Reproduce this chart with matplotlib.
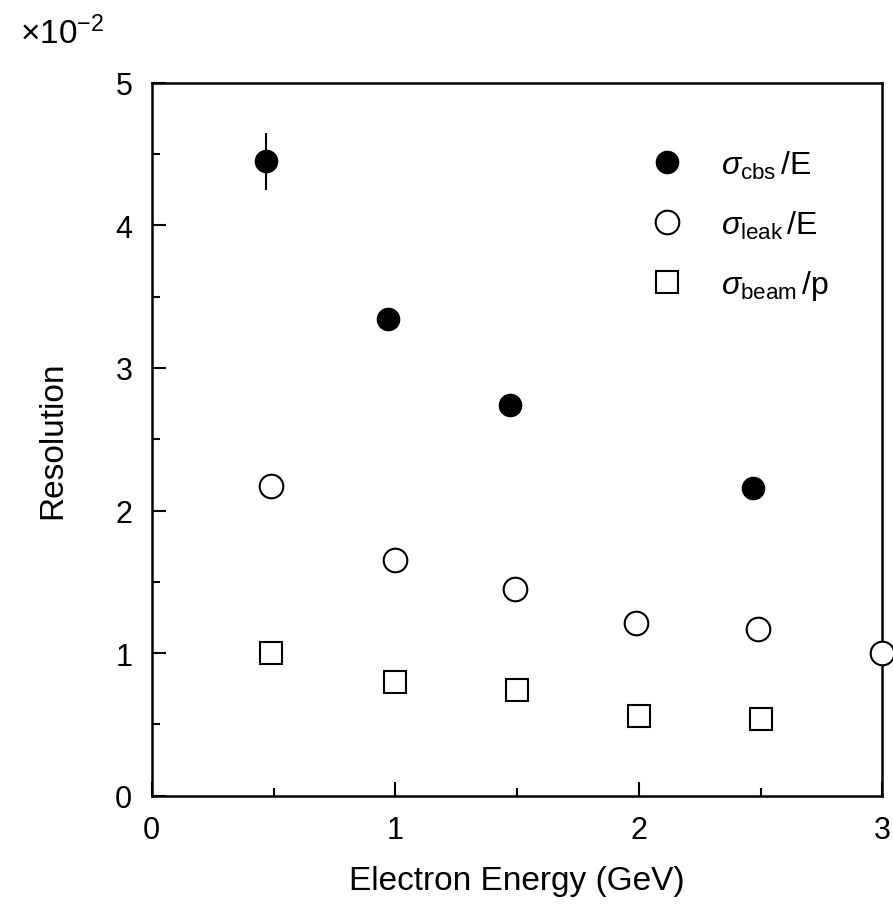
import numpy as np
import matplotlib.pyplot as plt

plt.rcParams['font.family'] = 'Liberation Sans'
plt.rcParams['mathtext.fontset'] = 'custom'
plt.rcParams['mathtext.rm'] = 'Liberation Sans'
plt.rcParams['mathtext.it'] = 'Liberation Sans:italic'

# data (resolution in units of 1e-2)
e_cbs = [0.47, 0.97, 1.47, 2.47]
r_cbs = [4.45, 3.34, 2.74, 2.16]
err_cbs = [0.20, 0.0, 0.0, 0.0]

e_leak = [0.49, 1.0, 1.49, 1.99, 2.49, 3.0]
r_leak = [2.17, 1.65, 1.45, 1.21, 1.17, 1.0]

e_beam = [0.49, 1.0, 1.5, 2.0, 2.5]
r_beam = [1.0, 0.80, 0.74, 0.56, 0.54]

fig = plt.figure(figsize=(8.93, 9.20), dpi=100)
ax = fig.add_axes([0.170, 0.134, 0.818, 0.775])

ax.errorbar(e_cbs, r_cbs, yerr=err_cbs, fmt='none', ecolor='black',
            elinewidth=1.5, capsize=0)
h1, = ax.plot(e_cbs, r_cbs, 'o', color='black', ms=16)
h2, = ax.plot(e_leak, r_leak, 'o', mfc='white', mec='black', mew=1.5, ms=17,
              clip_on=False, zorder=5)
h3, = ax.plot(e_beam, r_beam, 's', mfc='white', mec='black', mew=1.5, ms=16)

ax.set_xlim(0, 3)
ax.set_ylim(0, 5)
ax.set_xticks([0, 1, 2, 3])
ax.set_xticks([0.5, 1.5, 2.5], minor=True)
ax.set_yticks([0, 1, 2, 3, 4, 5])
ax.set_yticks([0.5, 1.5, 2.5, 3.5, 4.5], minor=True)
ax.tick_params(which='both', direction='in', labelsize=22, width=1.5)
ax.tick_params(which='major', length=10, pad=14)
ax.tick_params(which='minor', length=6)
for s in ax.spines.values():
    s.set_linewidth(1.8)

ax.set_xlabel('Electron Energy (GeV)', fontsize=24, labelpad=14)
ax.set_ylabel('Resolution', fontsize=24, labelpad=34)

fig.text(0.022, 0.952, r'$\times 10^{-2}$', fontsize=24)

ax.legend([h1, h2, h3],
          [r'$\sigma_{\rm cbs}\,/\rm E$', r'$\sigma_{\rm leak}\,/\rm E$',
           r'$\sigma_{\rm beam}\,/\rm p$'],
          loc='upper right', frameon=False, fontsize=23, numpoints=1,
          bbox_to_anchor=(0.967, 0.948), labelspacing=0.87, handletextpad=0.7)

fig.savefig('out.png')
